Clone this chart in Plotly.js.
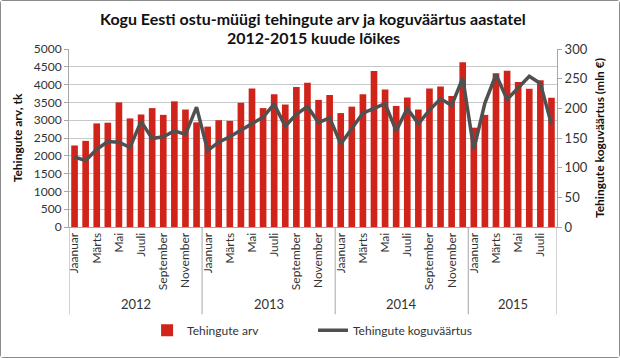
<!DOCTYPE html>
<html><head><meta charset="utf-8">
<script src="https://cdn.plot.ly/plotly-3.0.1.min.js"></script>
<style>
html,body{margin:0;padding:0;background:#fff;}
#wrap{width:620px;height:358px;box-sizing:border-box;border:1px solid #8c8c8c;border-radius:3px;}
#chart{width:618px;height:356px;}
</style></head>
<body><div id="wrap"><div id="chart"></div></div>
<script>
const years = ["2012","2013","2014","2015"];
const monthNames = ["Jaanuar","Veebruar","Märts","Aprill","Mai","Juuni","Juuli","August","September","Oktoober","November","Detsember"];
const monthsPerYear = [12,12,12,8];
const tehinguteArv = [
  2290,2420,2910,2930,3500,3050,3160,3340,3150,3530,3300,2940,
  2820,3000,2980,3490,3890,3340,3730,3440,3930,4050,3570,3710,
  3200,3380,3730,4380,3860,3400,3640,3300,3890,3950,3680,4630,
  2790,3150,4320,4390,4070,3880,4120,3630
];
const koguvaartus = [
  118,112,131,144,143,134,178,149,152,162,156,202,
  129,143,152,163,174,185,207,170,190,203,176,184,
  140,166,192,200,208,162,200,174,197,216,205,251,
  131,209,257,215,234,254,242,173
];
const shownMonths = ["Jaanuar","Märts","Mai","Juuli","September","November"];
const titleLines = ["Kogu Eesti ostu-müügi tehingute arv ja koguväärtus aastatel","2012-2015 kuude lõikes"];

const x = [], tickvals = [], ticktext = [];
let idx = 0;
const yearStarts = [];
years.forEach((yr, yi) => {
  yearStarts.push(idx);
  for (let m = 0; m < monthsPerYear[yi]; m++) {
    x.push(idx);
    if (shownMonths.includes(monthNames[m])) { tickvals.push(idx); ticktext.push(monthNames[m]); }
    idx++;
  }
});
const n = idx;

const font = "Lato, 'Open Sans', sans-serif";
const shapes = [];
const annotations = [];
const bounds = yearStarts.concat([n]);
bounds.forEach(b => {
  shapes.push({type:"line", xref:"x", yref:"paper", x0:b-0.5, x1:b-0.5, y0:0, y1:-0.49, line:{color:"#a6a6a6", width:1}});
});
years.forEach((yr, yi) => {
  annotations.push({xref:"x", yref:"paper", x:(bounds[yi] + bounds[yi+1] - 1)/2, y:-0.43, text:yr, showarrow:false, font:{family:font, size:13, color:"#333"}, yanchor:"middle"});
});
const titleY = [1.17, 1.065];
titleLines.forEach((t, i) => {
  annotations.push({xref:"paper", yref:"paper", x:0.5, y:titleY[i], text:"<b>"+t+"</b>", showarrow:false, font:{family:font, size:16, color:"#111"}, xanchor:"center", yanchor:"middle"});
});

const data = [
  {type:"bar", x:x, y:tehinguteArv, name:"Tehingute arv", marker:{color:"#d0231a"}, width:0.6, yaxis:"y", legend:"legend"},
  {type:"scatter", mode:"lines", x:x, y:koguvaartus, name:"Tehingute koguväärtus", line:{color:"#505050", width:3.5}, yaxis:"y2", legend:"legend2"}
];

const legendCommon = {orientation:"h", y:-0.58, yanchor:"middle", xanchor:"left", font:{family:font, size:12, color:"#333"}, itemwidth:30, bgcolor:"rgba(0,0,0,0)"};

const layout = {
  width:618, height:356,
  margin:{l:68, r:62, t:48, b:121},
  paper_bgcolor:"#fff", plot_bgcolor:"#fff",
  font:{family:font, size:12, color:"#333"},
  showlegend:true,
  legend:Object.assign({}, legendCommon, {x:0.16}),
  legend2:Object.assign({}, legendCommon, {x:0.5}),
  bargap:0.4,
  xaxis:{range:[-0.5, n-0.5], tickmode:"array", tickvals:tickvals, ticktext:ticktext, tickangle:-90, showgrid:false, zeroline:false, showline:true, linecolor:"#a6a6a6", ticks:"", tickfont:{family:font, size:12, color:"#333"}},
  yaxis:{range:[0,5000], dtick:500, showgrid:true, gridcolor:"#c8c8c8", zeroline:false, showline:true, linecolor:"#a6a6a6", ticks:"outside", ticklen:4, tickcolor:"#a6a6a6",
    title:{text:"<b>Tehingute arv, tk</b>", font:{family:font, size:12, color:"#111"}, standoff:8}},
  yaxis2:{range:[0,300], dtick:50, overlaying:"y", side:"right", showgrid:false, zeroline:false, showline:true, linecolor:"#a6a6a6", ticks:"outside", ticklen:4, tickcolor:"#a6a6a6", tickfont:{size:13},
    title:{text:"<b>Tehingute koguväärtus (mln €)</b>", font:{family:font, size:12, color:"#111"}, standoff:8}},
  shapes:shapes,
  annotations:annotations
};
Plotly.newPlot("chart", data, layout, {displayModeBar:false, staticPlot:true});
</script></body></html>
